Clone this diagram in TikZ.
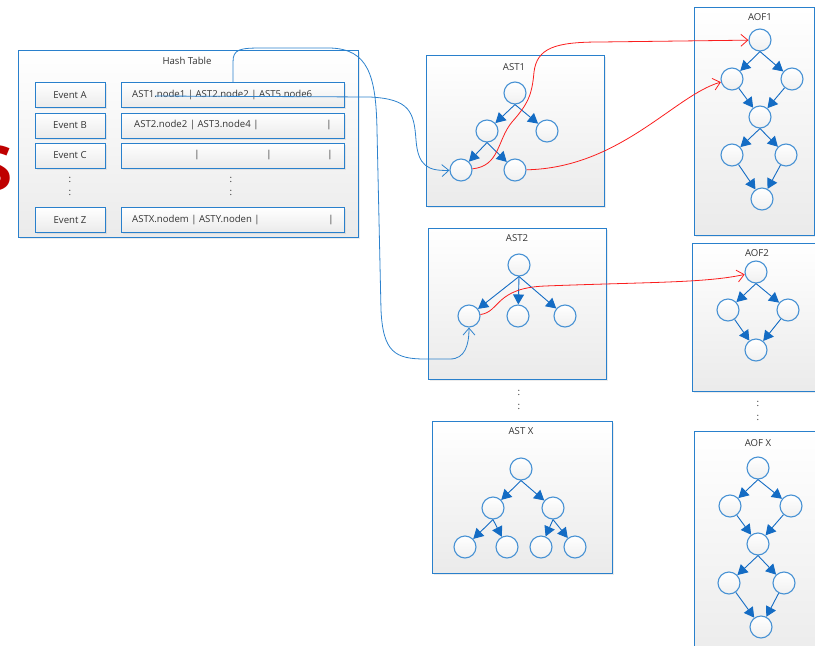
\documentclass[tikz,border=0pt]{standalone}
\usepackage{fontspec}
\setmainfont{Open Sans}
\usetikzlibrary{arrows.meta}
\usetikzlibrary{shadows}
\definecolor{boxblue}{RGB}{41,128,204}
\definecolor{circblue}{RGB}{72,146,212}
\definecolor{treeblue}{RGB}{20,108,196}
\definecolor{linkblue}{RGB}{45,130,205}
\definecolor{hopred}{RGB}{250,30,30}
\tikzset{
  panel/.style={draw=boxblue, line width=1pt, top color=white, bottom color=black!8,
    drop shadow={shadow xshift=1.5pt, shadow yshift=-1.5pt, opacity=0.15}},
  cell/.style={panel, minimum height=25pt},
  knot/.style={circle, draw=circblue, line width=1.1pt, minimum size=22pt, inner sep=0pt,
    top color=white, bottom color=black!6},
  tedge/.style={draw=treeblue, line width=0.9pt, -{Triangle[length=10pt,width=11pt]}},
  link/.style={draw=linkblue, line width=0.8pt, -{Straight Barb[length=7pt,width=12pt]}},
  hop/.style={link, draw=hopred},
  lbl/.style={text=black!80, font=\fontsize{9.6}{12}\selectfont, inner sep=0pt},
}
\begin{document}
\begin{tikzpicture}[x=1pt,y=-1pt]
\useasboundingbox (0,0) rectangle (815,646);
\node[text=red!75!black, font=\bfseries\fontsize{62}{62}\selectfont, inner sep=0pt] (bigs) at (-4,168) {S};

\node[panel, minimum width=340pt, minimum height=187pt] (hash) at (188,143.5) {};
\node[lbl] (hashtitle) at (187,61) {Hash Table};
\node[cell, minimum width=70pt] (eva) at (70,95) {};
\node[cell, minimum width=70pt] (evb) at (70,125.5) {};
\node[cell, minimum width=70pt] (evc) at (70,155.5) {};
\node[cell, minimum width=70pt] (evz) at (70,220) {};
\node[lbl] at (eva) {Event A};
\node[lbl] at (evb) {Event B};
\node[lbl] at (evc) {Event C};
\node[lbl] at (evz) {Event Z};
\node[cell, minimum width=223pt] (rowa) at (232.5,95) {};
\node[cell, minimum width=223pt] (rowb) at (232.5,125.5) {};
\node[cell, minimum width=223pt] (rowc) at (232.5,155.5) {};
\node[cell, minimum width=223pt] (rowz) at (232.5,220) {};
\node[lbl, anchor=west] (texta) at (132,95) {AST1.node1 | AST2.node2 | AST5.node6};
\node[lbl, anchor=west] (textb) at (134,125.5) {AST2.node2 | AST3.node4 |};
\node[lbl] (barb) at (329,125.5) {|};
\node[lbl] (barc1) at (197,155.5) {|};
\node[lbl] (barc2) at (269,155.5) {|};
\node[lbl] (barc3) at (330,155.5) {|};
\node[lbl, anchor=west] (textz) at (132,220) {ASTX.nodem | ASTY.noden |};
\node[lbl] (barz) at (331,220) {|};
\node[lbl] (dotev1) at (70,180) {:};
\node[lbl] (dotev2) at (70,193) {:};
\node[lbl] (dotrow1) at (231,180) {:};
\node[lbl] (dotrow2) at (231,193) {:};

\node[panel, minimum width=178pt, minimum height=151pt] (ast1) at (515,130.5) {};
\node[lbl] (ast1title) at (514,67) {AST1};
\node[knot] (s1a) at (515,93) {};
\node[knot] (s1b) at (487,131) {};
\node[knot] (s1c) at (547,131) {};
\node[knot] (s1d) at (461,170) {};
\node[knot] (s1e) at (515,170) {};
\draw[tedge] (s1a.south) -- (s1b);
\draw[tedge] (s1a.south) -- (s1c);
\draw[tedge] (s1b.south) -- (s1d);
\draw[tedge] (s1b.south) -- (s1e);

\node[panel, minimum width=178pt, minimum height=151pt] (ast2) at (517,303.5) {};
\node[lbl] (ast2title) at (517,238) {AST2};
\node[knot] (s2a) at (519,265) {};
\node[knot] (s2b) at (469,316) {};
\node[knot] (s2c) at (518,316) {};
\node[knot] (s2d) at (565,316) {};
\draw[tedge] (s2a.south) -- (s2b);
\draw[tedge] (s2a.south) -- (s2c);
\draw[tedge] (s2a.south) -- (s2d);

\node[lbl] (dotast1) at (519,393) {:};
\node[lbl] (dotast2) at (519,407) {:};

\node[panel, minimum width=180pt, minimum height=152pt] (astx) at (522,497) {};
\node[lbl] (astxtitle) at (521,431) {AST X};
\node[knot] (sxa) at (521,469) {};
\node[knot] (sxb) at (493,508) {};
\node[knot] (sxc) at (553,508) {};
\node[knot] (sxd) at (465,547) {};
\node[knot] (sxe) at (507,547) {};
\node[knot] (sxf) at (541,547) {};
\node[knot] (sxg) at (575,547) {};
\draw[tedge] (sxa.south) -- (sxb);
\draw[tedge] (sxa.south) -- (sxc);
\draw[tedge] (sxb.south) -- (sxd);
\draw[tedge] (sxb.south) -- (sxe);
\draw[tedge] (sxc.south) -- (sxf);
\draw[tedge] (sxc.south) -- (sxg);

\node[panel, minimum width=120pt, minimum height=228pt] (aof1) at (754,121) {};
\node[lbl] (aof1title) at (760,17) {AOF1};
\node[knot] (f1a) at (760,40) {};
\node[knot] (f1b) at (732,79) {};
\node[knot] (f1c) at (792,79) {};
\node[knot] (f1d) at (760,117) {};
\node[knot] (f1e) at (732,155) {};
\node[knot] (f1f) at (786,155) {};
\node[knot] (f1g) at (762,199) {};
\draw[tedge] (f1a.south) -- (f1b);
\draw[tedge] (f1a.south) -- (f1c);
\draw[tedge] (f1b) -- (f1d);
\draw[tedge] (f1c) -- (f1d);
\draw[tedge] (f1d.south) -- (f1e);
\draw[tedge] (f1d.south) -- (f1f);
\draw[tedge] (f1e) -- (f1g);
\draw[tedge] (f1f) -- (f1g);

\node[panel, minimum width=128pt, minimum height=148pt] (aof2) at (756,317) {};
\node[lbl] (aof2title) at (757,253) {AOF2};
\node[knot] (f2a) at (756,272) {};
\node[knot] (f2b) at (728,310) {};
\node[knot] (f2c) at (788,310) {};
\node[knot] (f2d) at (756,350) {};
\draw[tedge] (f2a.south) -- (f2b);
\draw[tedge] (f2a.south) -- (f2c);
\draw[tedge] (f2b) -- (f2d);
\draw[tedge] (f2c) -- (f2d);

\node[lbl] (dotaof1) at (758,404) {:};
\node[lbl] (dotaof2) at (758,418) {:};

\node[panel, minimum width=126pt, minimum height=239pt] (aofx) at (757,550.5) {};
\node[lbl] (aofxtitle) at (758,443) {AOF X};
\node[knot] (fxa) at (758,468) {};
\node[knot] (fxb) at (730,506) {};
\node[knot] (fxc) at (791,506) {};
\node[knot] (fxd) at (758,544) {};
\node[knot] (fxe) at (729,583) {};
\node[knot] (fxf) at (784,583) {};
\node[knot] (fxg) at (761,627) {};
\draw[tedge] (fxa.south) -- (fxb);
\draw[tedge] (fxa.south) -- (fxc);
\draw[tedge] (fxb) -- (fxd);
\draw[tedge] (fxc) -- (fxd);
\draw[tedge] (fxd.south) -- (fxe);
\draw[tedge] (fxd.south) -- (fxf);
\draw[tedge] (fxe) -- (fxg);
\draw[tedge] (fxf) -- (fxg);

\coordinate (pa) at (155,96);
\coordinate (pb) at (233,82);
\draw[link] (pa) -- (370,97) .. controls (410,99) and (414,112) .. (416,140) .. controls (418,166) and (428,171) .. (s1d);
\draw[link] (pb) -- (233,62) .. controls (233,49) and (240,48) .. (262,48) -- (330,48) .. controls (368,49) and (376,75) .. (377,130) -- (381,310) .. controls (383,352) and (395,359) .. (425,359) -- (450,359) .. controls (465,359) and (469,345) .. (s2b);
\draw[hop] (s1d) .. controls (500,166) and (497,140) .. (512,122) .. controls (528,104) and (532,95) .. (534,72) .. controls (537,48) and (555,42) .. (600,42) -- (f1a);
\draw[hop] (s1e) .. controls (620,168) and (675,95) .. (f1b);
\draw[hop] (s2b) .. controls (500,312) and (495,288) .. (545,286) .. controls (650,282) and (705,283) .. (f2a);
\end{tikzpicture}
\end{document}
